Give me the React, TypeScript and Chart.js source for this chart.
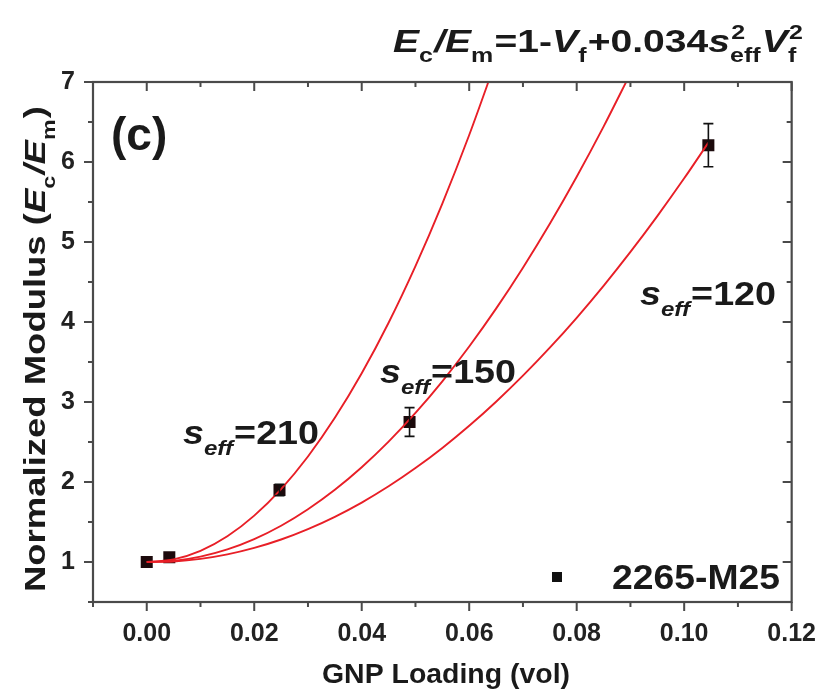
import React, { useEffect, useRef } from "react";
import { Chart, registerables } from "chart.js";

Chart.register(...registerables);

// Measured samples (2265-M25)
const sampleX = [0.0, 0.0042, 0.0247, 0.0489, 0.1045];
const sampleY = [1.0, 1.06, 1.9, 2.75, 6.21];
const sampleErr = [0.0, 0.0, 0.07, 0.18, 0.27];

// Fit curves Ec/Em = 1 - Vf + 0.034 s^2 Vf^2
const fitX120 = [0, 0.005, 0.01, 0.015, 0.02, 0.025, 0.03, 0.035, 0.04, 0.045, 0.05, 0.055, 0.06, 0.065, 0.07, 0.075, 0.08, 0.085, 0.09, 0.095, 0.1, 0.1045];
const fitY120 = [1.0, 1.007, 1.039, 1.095, 1.176, 1.281, 1.411, 1.565, 1.743, 1.946, 2.174, 2.426, 2.703, 3.004, 3.329, 3.679, 4.053, 4.452, 4.876, 5.324, 5.796, 6.242];
const fitX150 = [0, 0.005, 0.01, 0.015, 0.02, 0.025, 0.03, 0.035, 0.04, 0.045, 0.05, 0.055, 0.06, 0.065, 0.07, 0.075, 0.08, 0.085, 0.09];
const fitY150 = [1.0, 1.014, 1.067, 1.157, 1.286, 1.453, 1.659, 1.902, 2.184, 2.504, 2.863, 3.259, 3.694, 4.167, 4.679, 5.228, 5.816, 6.442, 7.107];
const fitX210 = [0, 0.005, 0.01, 0.015, 0.02, 0.025, 0.03, 0.035, 0.04, 0.045, 0.05, 0.055, 0.06, 0.065];
const fitY210 = [1.0, 1.033, 1.14, 1.322, 1.58, 1.912, 2.319, 2.802, 3.359, 3.991, 4.699, 5.481, 6.338, 7.27];

const xTicks = [0, 0.02, 0.04, 0.06, 0.08, 0.1, 0.12];
const xMinorTicks = [-0.01, 0.01, 0.03, 0.05, 0.07, 0.09, 0.11];
const yTicks = [1, 2, 3, 4, 5, 6, 7];
const yMinorTicks = [0.5, 1.5, 2.5, 3.5, 4.5, 5.5, 6.5];

const legendLabel = "2265-M25";
const FONT = '"Liberation Sans", Arial, Helvetica, sans-serif';
const RED = "#e81f27";
const AXIS = "#4a4a4a";

type Run = { t: string; size: number; italic?: boolean; sup?: string; sub?: string; subItalic?: boolean };

function fontOf(size: number, italic?: boolean) {
  return `${italic ? "italic " : ""}bold ${size}px ${FONT}`;
}

const SUBR = 0.64;

function measureRuns(ctx: CanvasRenderingContext2D, runs: Run[]) {
  let w = 0;
  for (const r of runs) {
    ctx.font = fontOf(r.size, r.italic);
    w += ctx.measureText(r.t).width;
    if (r.sup || r.sub) {
      const s = r.size * SUBR;
      ctx.font = fontOf(s, false);
      const a = r.sup ? ctx.measureText(r.sup).width : 0;
      ctx.font = fontOf(s, r.subItalic);
      const b = r.sub ? ctx.measureText(r.sub).width : 0;
      w += Math.max(a, b) + 1;
    }
  }
  return w;
}

function drawRuns(ctx: CanvasRenderingContext2D, runs: Run[], x: number, y: number) {
  ctx.textBaseline = "alphabetic";
  ctx.textAlign = "left";
  let cx = x;
  for (const r of runs) {
    ctx.font = fontOf(r.size, r.italic);
    ctx.fillText(r.t, cx, y);
    cx += ctx.measureText(r.t).width;
    if (r.sup || r.sub) {
      const s = r.size * SUBR;
      let a = 0, b = 0;
      if (r.sup) {
        ctx.font = fontOf(s, false);
        ctx.fillText(r.sup, cx + 1, y - r.size * 0.42);
        a = ctx.measureText(r.sup).width;
      }
      if (r.sub) {
        ctx.font = fontOf(s, r.subItalic);
        ctx.fillText(r.sub, cx, y + r.size * 0.32);
        b = ctx.measureText(r.sub).width;
      }
      cx += Math.max(a, b) + 1;
    }
  }
}

// draw runs starting at x, stretched horizontally to span targetW
function drawRunsFit(ctx: CanvasRenderingContext2D, runs: Run[], x: number, y: number, targetW: number) {
  const w = measureRuns(ctx, runs);
  ctx.save();
  ctx.translate(x, y);
  ctx.scale(targetW / w, 1);
  drawRuns(ctx, runs, 0, 0);
  ctx.restore();
}

const decorPlugin = {
  id: "decor",
  afterDatasetsDraw(chart: any) {
    const ctx: CanvasRenderingContext2D = chart.ctx;
    const xs = chart.scales.x;
    const ys = chart.scales.y;
    ctx.save();
    ctx.strokeStyle = "#111";
    ctx.lineWidth = 1.6;
    for (let i = 0; i < sampleX.length; i++) {
      if (!sampleErr[i]) continue;
      const px = xs.getPixelForValue(sampleX[i]);
      const t = ys.getPixelForValue(sampleY[i] + sampleErr[i]);
      const b = ys.getPixelForValue(sampleY[i] - sampleErr[i]);
      ctx.beginPath();
      ctx.moveTo(px, t); ctx.lineTo(px, b);
      ctx.moveTo(px - 5, t); ctx.lineTo(px + 5, t);
      ctx.moveTo(px - 5, b); ctx.lineTo(px + 5, b);
      ctx.stroke();
    }
    ctx.restore();
  },
  afterDraw(chart: any) {
    const ctx: CanvasRenderingContext2D = chart.ctx;
    const { left, right, top, bottom } = chart.chartArea;
    const xs = chart.scales.x;
    const ys = chart.scales.y;
    ctx.save();
    // frame
    ctx.strokeStyle = AXIS;
    ctx.lineWidth = 2.2;
    ctx.strokeRect(left, top, right - left, bottom - top);
    ctx.lineWidth = 2;
    ctx.beginPath();
    const MAJ = 9, MIN = 5;
    for (const v of xTicks) {
      const p = xs.getPixelForValue(v);
      ctx.moveTo(p, bottom); ctx.lineTo(p, bottom + MAJ);
      ctx.moveTo(p, top); ctx.lineTo(p, top + MAJ);
    }
    for (const v of xMinorTicks) {
      const p = xs.getPixelForValue(v);
      ctx.moveTo(p, bottom); ctx.lineTo(p, bottom + MIN);
      ctx.moveTo(p, top); ctx.lineTo(p, top + MIN);
    }
    for (const v of yTicks) {
      const p = ys.getPixelForValue(v);
      ctx.moveTo(left, p); ctx.lineTo(left - MAJ, p);
      ctx.moveTo(right, p); ctx.lineTo(right - MAJ, p);
    }
    for (const v of yMinorTicks) {
      const p = ys.getPixelForValue(v);
      ctx.moveTo(left, p); ctx.lineTo(left - MIN, p);
      ctx.moveTo(right, p); ctx.lineTo(right - MIN, p);
    }
    ctx.stroke();

    ctx.fillStyle = "#1a1a1a";
    // title formula
    drawRunsFit(ctx, [
      { t: "E", size: 32, italic: true, sub: "c" },
      { t: "/E", size: 32, italic: true, sub: "m" },
      { t: "=1-", size: 32 },
      { t: "V", size: 32, italic: true, sub: "f" },
      { t: "+0.034", size: 32 },
      { t: "s", size: 32, italic: true, sup: "2", sub: "eff" },
      { t: "V", size: 32, italic: true, sup: "2", sub: "f" },
    ], 393, 52, 410);

    // panel label
    ctx.font = fontOf(46);
    ctx.textAlign = "left";
    ctx.fillText("(c)", 111, 150);

    // s_eff labels
    const lab = (val: string, x: number, y: number) =>
      drawRunsFit(ctx, [
        { t: "s", size: 33, italic: true, sub: "eff", subItalic: true },
        { t: "=" + val, size: 33 },
      ], x, y, 136);
    lab("210", 183, 444);
    lab("150", 380, 383);
    lab("120", 640, 305);

    // legend
    ctx.fillStyle = "#111";
    ctx.fillRect(552, 572, 10, 10);
    ctx.fillStyle = "#1a1a1a";
    drawRunsFit(ctx, [{ t: legendLabel, size: 35 }], 612, 589, 168);

    // x axis title
    drawRunsFit(ctx, [{ t: "GNP Loading (vol)", size: 28 }], 322, 683, 248);

    // y axis title
    const yRuns: Run[] = [
      { t: "Normalized Modulus (", size: 30 },
      { t: "E", size: 30, italic: true, sub: "c" },
      { t: "/E", size: 30, italic: true, sub: "m" },
      { t: ")", size: 30 },
    ];
    ctx.save();
    ctx.translate(45, 592);
    ctx.rotate(-Math.PI / 2);
    drawRunsFit(ctx, yRuns, 0, 0, 486);
    ctx.restore();
    ctx.restore();
  },
};

export default function App() {
  const ref = useRef<HTMLCanvasElement | null>(null);
  useEffect(() => {
    document.body.style.margin = "0";
    const canvas = ref.current!;
    const lineDs = (xv: number[], yv: number[], label: string) => ({
      label,
      type: "line" as const,
      data: xv.map((x, i) => ({ x, y: yv[i] })),
      borderColor: RED,
      borderWidth: 1.9,
      pointRadius: 0,
      fill: false,
      cubicInterpolationMode: "monotone" as const,
    });
    const chart = new Chart(canvas, {
      type: "scatter",
      data: {
        datasets: [
          lineDs(fitX120, fitY120, "s=120"),
          lineDs(fitX150, fitY150, "s=150"),
          lineDs(fitX210, fitY210, "s=210"),
          {
            label: legendLabel,
            data: sampleX.map((x, i) => ({ x, y: sampleY[i] })),
            pointStyle: "rect",
            pointRadius: 8.5,
            backgroundColor: "#1c0a0c",
            borderColor: "#1c0a0c",
            borderWidth: 0,
          },
        ],
      },
      options: {
        responsive: false,
        animation: false,
        layout: { padding: { left: 0, right: 35, top: 82, bottom: 0 } },
        plugins: { legend: { display: false }, tooltip: { enabled: false }, title: { display: false } },
        scales: {
          x: {
            type: "linear",
            min: -0.01,
            max: 0.12,
            grid: { display: false, drawTicks: false },
            border: { display: false },
            afterBuildTicks: (s: any) => { s.ticks = xTicks.map((v) => ({ value: v })); },
            afterFit: (s: any) => { s.height = 92; },
            ticks: {
              padding: 17,
              color: "#222",
              font: { family: FONT, size: 25, weight: "bold" },
              callback: (v: any) => Number(v).toFixed(2),
              maxRotation: 0,
              autoSkip: false,
            },
          },
          y: {
            type: "linear",
            min: 0.5,
            max: 7,
            grid: { display: false, drawTicks: false },
            border: { display: false },
            afterBuildTicks: (s: any) => { s.ticks = yTicks.map((v) => ({ value: v })); },
            afterFit: (s: any) => { s.width = 93; },
            ticks: {
              padding: 18,
              color: "#222",
              font: { family: FONT, size: 25, weight: "bold" },
              callback: (v: any) => String(v),
              autoSkip: false,
            },
          },
        },
      },
      plugins: [decorPlugin],
    });
    return () => chart.destroy();
  }, []);
  return <canvas ref={ref} width={833} height={694} style={{ display: "block", width: 833, height: 694 }} />;
}
